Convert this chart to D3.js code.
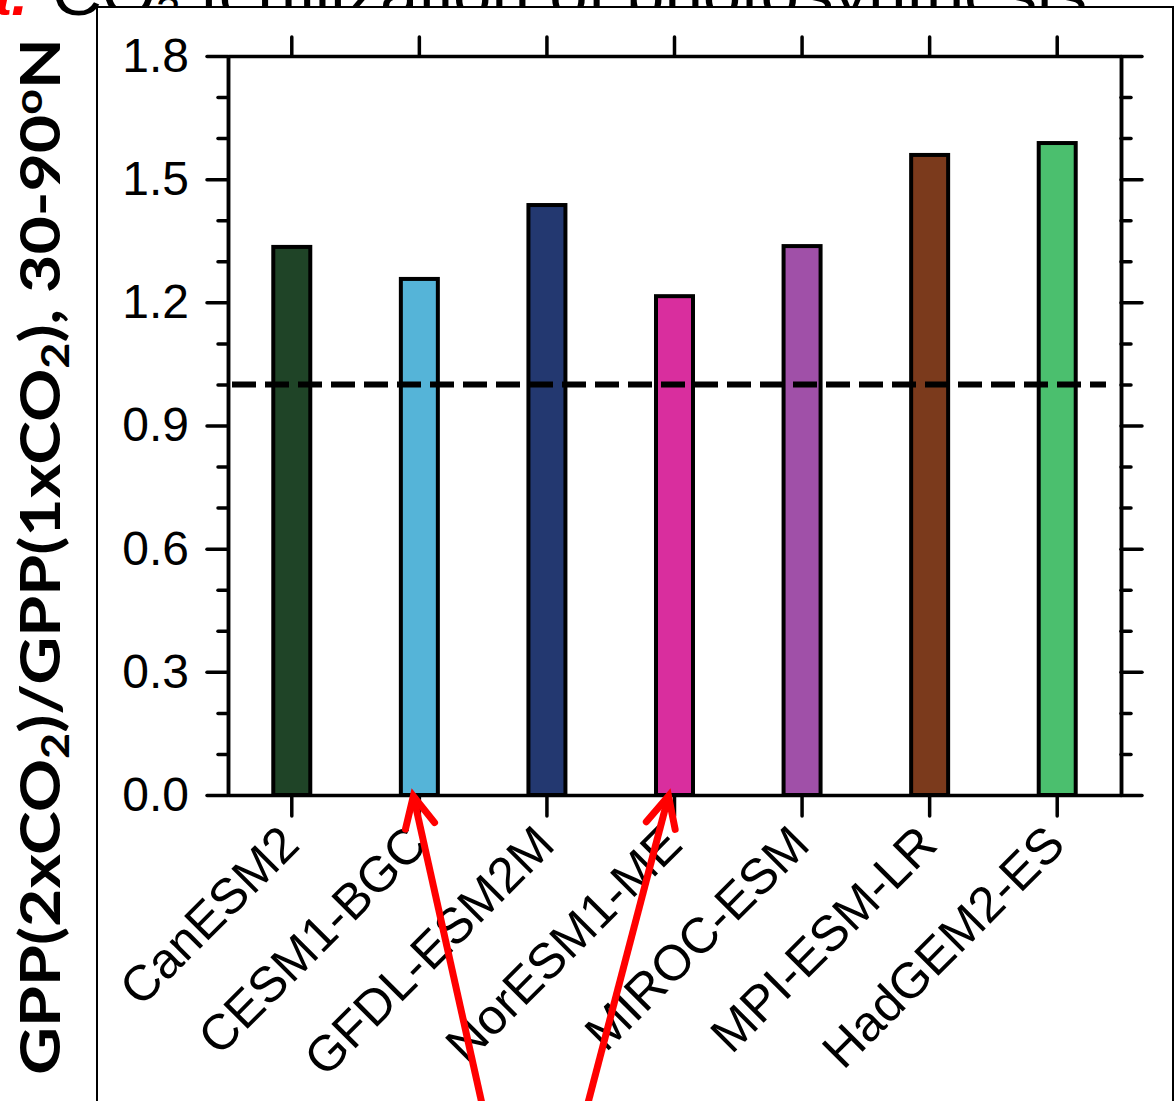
<!DOCTYPE html>
<html>
<head>
<meta charset="utf-8">
<script src="https://cdn.jsdelivr.net/npm/d3@7"></script>
<style>
  html, body { margin: 0; padding: 0; background: #fff; }
  svg { display: block; }
</style>
</head>
<body>
<svg id="chart" width="1176" height="1101"></svg>
<script>
// ---- data ----
const models = ["CanESM2", "CESM1-BGC", "GFDL-ESM2M", "NorESM1-ME", "MIROC-ESM", "MPI-ESM-LR", "HadGEM2-ES"];
const ratios = [1.335, 1.257, 1.437, 1.215, 1.337, 1.559, 1.588];
const barColors = ["#1f4427", "#55b4d8", "#233870", "#d92e9e", "#a050a8", "#7b3a1c", "#4bbf6e"];
const yMajorTicks = [0.0, 0.3, 0.6, 0.9, 1.2, 1.5, 1.8];
const yMinorTicks = [0.1, 0.2, 0.4, 0.5, 0.7, 0.8, 1.0, 1.1, 1.3, 1.4, 1.6, 1.7];
const referenceValue = [1.0];
const arrowTargets = ["CESM1-BGC", "NorESM1-ME"];

const svg = d3.select("#chart");
const L = 228, R = 1121, T = 56, B = 795;

const x = d3.scaleBand().domain(models).range([L, R]).padding(0);
const y = d3.scaleLinear().domain([0, 1.8]).range([B, T]);

// ---- title (clipped at top, partly hidden behind panel) ----
svg.append("text")
  .attr("x", 28).attr("y", 15)
  .attr("text-anchor", "end")
  .attr("font-family", "Liberation Sans, Arial, sans-serif")
  .attr("font-size", 60).attr("font-weight", "bold").attr("font-style", "italic")
  .attr("fill", "#ff0000")
  .text("a.");
const title = svg.append("text")
  .attr("x", 52).attr("y", 15)
  .attr("font-family", "Liberation Sans, Arial, sans-serif")
  .attr("font-size", 62)
  .attr("textLength", 1035).attr("lengthAdjust", "spacingAndGlyphs")
  .attr("fill", "#000");
title.append("tspan").text("CO");
title.append("tspan").attr("font-size", 40).attr("dy", 10).text("2");
title.append("tspan").attr("dy", -10).text(" fertilization of photosynthesis");

// ---- panel box ----
svg.append("rect")
  .attr("x", 97).attr("y", 7).attr("width", 1076).attr("height", 1110)
  .attr("fill", "#fff").attr("stroke", "#000").attr("stroke-width", 2);

// ---- y label ----
const yl = svg.append("text")
  .attr("transform", `translate(60,${(38 + 1075) / 2}) rotate(-90)`)
  .attr("text-anchor", "middle")
  .attr("font-family", "Lato, 'Open Sans', sans-serif")
  .attr("font-weight", "bold")
  .attr("font-size", 56)
  .attr("textLength", 1037).attr("lengthAdjust", "spacingAndGlyphs")
  .attr("fill", "#000");
yl.append("tspan").text("GPP(2xCO");
yl.append("tspan").attr("font-size", 38).attr("dy", 9).text("2");
yl.append("tspan").attr("dy", -9).text(")/GPP(1xCO");
yl.append("tspan").attr("font-size", 38).attr("dy", 9).text("2");
yl.append("tspan").attr("dy", -9).text("), 30-90");
yl.append("tspan").attr("font-size", 38).attr("dy", -18).text("o");
yl.append("tspan").attr("dy", 18).text("N");

// ---- bars ----
const bw = x.bandwidth() * 0.29;
svg.append("g").selectAll("rect")
  .data(models)
  .join("rect")
  .attr("x", (d) => x(d) + x.bandwidth() / 2 - bw / 2)
  .attr("y", (d, i) => y(ratios[i]))
  .attr("width", bw)
  .attr("height", (d, i) => y(0) - y(ratios[i]))
  .attr("fill", (d, i) => barColors[i])
  .attr("stroke", "#000")
  .attr("stroke-width", 4);

// ---- reference dashed line ----
svg.append("g").selectAll("line")
  .data(referenceValue)
  .join("line")
  .attr("x1", L + 4).attr("x2", 1106)
  .attr("y1", (d) => y(d)).attr("y2", (d) => y(d))
  .attr("stroke", "#000").attr("stroke-width", 6)
  .attr("stroke-dasharray", "24,9");

// ---- axes ----
function styleAxis(g) {
  g.selectAll("path.domain").attr("stroke-width", 3.5).attr("stroke", "#000");
  g.selectAll(".tick line").attr("stroke-width", 3.5).attr("stroke", "#000").attr("stroke-linecap", "round");
}
const fontTick = "Liberation Sans, Arial, sans-serif";

// left
svg.append("g").attr("transform", `translate(${L},0)`)
  .call(d3.axisLeft(y).tickValues(yMinorTicks).tickSize(10).tickSizeOuter(0).tickFormat(""))
  .call(styleAxis);
const gl = svg.append("g").attr("transform", `translate(${L},0)`)
  .call(d3.axisLeft(y).tickValues(yMajorTicks).tickSize(21).tickSizeOuter(0)
    .tickPadding(18).tickFormat(d3.format(".1f")))
  .call(styleAxis);
gl.selectAll(".tick text").attr("font-family", fontTick).attr("font-size", 48).attr("fill", "#000");

// right
svg.append("g").attr("transform", `translate(${R},0)`)
  .call(d3.axisRight(y).tickValues(yMinorTicks).tickSize(10).tickSizeOuter(0).tickFormat(""))
  .call(styleAxis);
svg.append("g").attr("transform", `translate(${R},0)`)
  .call(d3.axisRight(y).tickValues(yMajorTicks).tickSize(21).tickSizeOuter(0).tickFormat(""))
  .call(styleAxis);

// top
svg.append("g").attr("transform", `translate(0,${T})`)
  .call(d3.axisTop(x).tickSize(19).tickSizeOuter(0).tickFormat(""))
  .call(styleAxis);

// bottom
svg.append("g").attr("transform", `translate(0,${B})`)
  .call(d3.axisBottom(x).tickSize(21).tickSizeOuter(0).tickFormat(""))
  .call(styleAxis);

svg.append("g").selectAll("text")
  .data(models)
  .join("text")
  .attr("transform", (d) => `translate(${x(d) + x.bandwidth() / 2 + 10},${B + 52}) rotate(-45)`)
  .attr("text-anchor", "end")
  .attr("font-family", fontTick)
  .attr("font-size", 50)
  .attr("fill", "#000")
  .text((d) => d);

// ---- red arrows ----
const arrowTails = [68, -80];
const ag = svg.append("g");
arrowTargets.forEach((m, i) => {
  const tx = x(m) + x.bandwidth() / 2 - 6;
  const ty = y(0) + 1;
  const dx = arrowTails[i], dy = 1101 - ty;
  const len = Math.hypot(dx, dy);
  const ux = dx / len, uy = dy / len;
  const a = 26 * Math.PI / 180, h = 34;
  const rot = (c, s) => [ux * c - uy * s, ux * s + uy * c];
  const [l1x, l1y] = rot(Math.cos(a), Math.sin(a));
  const [l2x, l2y] = rot(Math.cos(-a), Math.sin(-a));
  const line = d3.line();
  ag.append("path")
    .attr("d", line([[tx + dx * 1.05, ty + dy * 1.05], [tx, ty]]))
    .attr("stroke", "#ff0000").attr("stroke-width", 7).attr("fill", "none");
  ag.append("path")
    .attr("d", line([[tx + l1x * h, ty + l1y * h], [tx, ty], [tx + l2x * h, ty + l2y * h]]))
    .attr("stroke", "#ff0000").attr("stroke-width", 7).attr("fill", "none")
    .attr("stroke-linecap", "round").attr("stroke-linejoin", "miter");
});
</script>
</body>
</html>
